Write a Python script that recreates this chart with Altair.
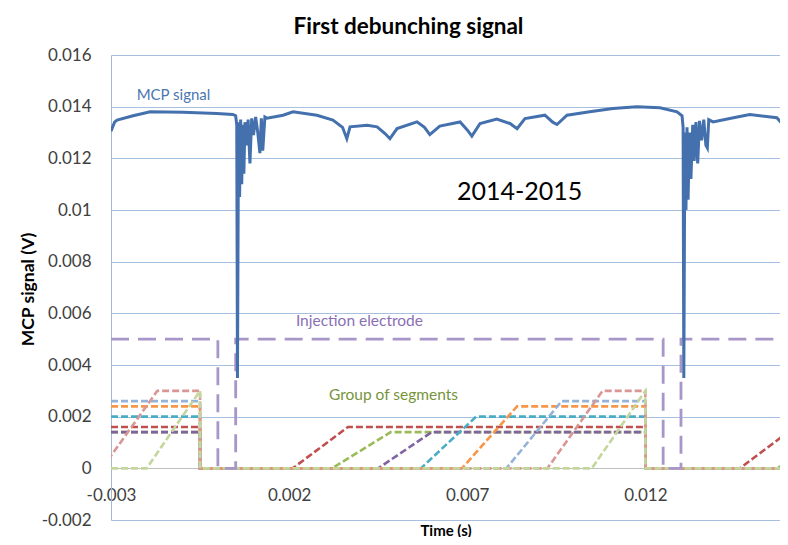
import altair as alt
import pandas as pd

# ---------------- data ----------------
# MCP signal trace: time (s) and signal (V)
mcp_t = [-0.00300, -0.00290, -0.00283, -0.00238, -0.00190, -0.00098, -0.00003, 0.00042,
         0.00050, 0.00053, 0.00055, 0.00058, 0.00061, 0.00064, 0.00067, 0.00070, 0.00073,
         0.00076, 0.00080, 0.00085, 0.00090, 0.00095, 0.00100, 0.00106, 0.00112, 0.00118,
         0.00122, 0.00126, 0.00132, 0.00138, 0.00183, 0.00211, 0.00278, 0.00323, 0.00350,
         0.00362, 0.00371, 0.00419, 0.00447, 0.00470, 0.00483, 0.00503, 0.00559, 0.00580,
         0.00595, 0.00623, 0.00680, 0.00700, 0.00713, 0.00736, 0.00783, 0.00820, 0.00840,
         0.00862, 0.00918, 0.00940, 0.00952, 0.00980, 0.01044, 0.01109, 0.01176, 0.01241,
         0.01289, 0.01303, 0.01306, 0.01308, 0.01311, 0.01314, 0.01317, 0.01320, 0.01324,
         0.01328, 0.01333, 0.01337, 0.01342, 0.01347, 0.01352, 0.01358, 0.01364, 0.01370,
         0.01374, 0.01378, 0.01390, 0.01437, 0.01493, 0.01569, 0.01597]
mcp_v = [0.01305, 0.01340, 0.01348, 0.01365, 0.01380, 0.01378, 0.01374, 0.01370,
         0.01365, 0.01330, 0.00350, 0.01340, 0.01050, 0.01350, 0.01100, 0.01330, 0.01140,
         0.01340, 0.01250, 0.01350, 0.01180, 0.01355, 0.01290, 0.01360, 0.01300, 0.01220,
         0.01355, 0.01230, 0.01360, 0.01355, 0.01367, 0.01380, 0.01367, 0.01348, 0.01320,
         0.01276, 0.01322, 0.01328, 0.01322, 0.01295, 0.01276, 0.01315, 0.01341, 0.01320,
         0.01292, 0.01325, 0.01341, 0.01310, 0.01286, 0.01335, 0.01352, 0.01335, 0.01315,
         0.01354, 0.01367, 0.01340, 0.01331, 0.01367, 0.01380, 0.01393, 0.01400, 0.01396,
         0.01380, 0.01365, 0.01320, 0.00350, 0.01300, 0.01000, 0.01320, 0.01040, 0.01300,
         0.01120, 0.01330, 0.01190, 0.01340, 0.01180, 0.01345, 0.01270, 0.01350, 0.01250,
         0.01240, 0.01350, 0.01341, 0.01354, 0.01370, 0.01357, 0.01315]

# Injection electrode (V)
inj_t = [-0.0030, 0.0000, 0.0000, 0.0005, 0.0005, 0.0125, 0.0125, 0.0130, 0.0130, 0.0160]
inj_v = [0.005, 0.005, 0.0, 0.0, 0.005, 0.005, 0.0, 0.0, 0.005, 0.005]

# Group of segments: breakpoints of each segment voltage
red_t = [-0.0030, -0.0005, -0.0005, 0.0021, 0.00365, 0.0120, 0.0120, 0.01465, 0.0162]
red_v = [0.0016, 0.0016, 0.0, 0.0, 0.0016, 0.0016, 0.0, 0.0, 0.0016]
green_t = [-0.0030, -0.0005, -0.0005, 0.0032, 0.00485, 0.0120, 0.0120, 0.0157, 0.0173]
green_v = [0.0014, 0.0014, 0.0, 0.0, 0.0014, 0.0014, 0.0, 0.0, 0.0014]
purple_t = [-0.0030, -0.0005, -0.0005, 0.0045, 0.0060, 0.0120, 0.0120, 0.0160]
purple_v = [0.0014, 0.0014, 0.0, 0.0, 0.0014, 0.0014, 0.0, 0.0]
cyan_t = [-0.0030, -0.0005, -0.0005, 0.0057, 0.00725, 0.0120, 0.0120, 0.0160]
cyan_v = [0.0020, 0.0020, 0.0, 0.0, 0.0020, 0.0020, 0.0, 0.0]
orange_t = [-0.0030, -0.0005, -0.0005, 0.00685, 0.0084, 0.0120, 0.0120, 0.0160]
orange_v = [0.0024, 0.0024, 0.0, 0.0, 0.0024, 0.0024, 0.0, 0.0]
lblue_t = [-0.0030, -0.0005, -0.0005, 0.0081, 0.00965, 0.0120, 0.0120, 0.0160]
lblue_v = [0.0026, 0.0026, 0.0, 0.0, 0.0026, 0.0026, 0.0, 0.0]
pink_t = [-0.00325, -0.0017, -0.0005, -0.0005, 0.00925, 0.0108, 0.0120, 0.0120, 0.0160]
pink_v = [0.0, 0.0030, 0.0030, 0.0, 0.0, 0.0030, 0.0030, 0.0, 0.0]
lgreen_t = [-0.0030, -0.0020, -0.0005, -0.0005, 0.0105, 0.0120, 0.0120, 0.0160]
lgreen_v = [0.0, 0.0, 0.0030, 0.0, 0.0, 0.0030, 0.0, 0.0]

segments = [
    (red_t, red_v, "#c0504d"),
    (green_t, green_v, "#9bbb59"),
    (purple_t, purple_v, "#8064a2"),
    (cyan_t, cyan_v, "#4bacc6"),
    (orange_t, orange_v, "#f79646"),
    (lblue_t, lblue_v, "#95b3d7"),
    (pink_t, pink_v, "#d99694"),
    (lgreen_t, lgreen_v, "#c3d69b"),
]

y_ticks = [-0.002, 0.0, 0.002, 0.004, 0.006, 0.008, 0.010, 0.012, 0.014, 0.016]
x_ticks = [-0.003, 0.002, 0.007, 0.012]

# annotations: text, time (s), value (V), colour, font size
ann_text = ["MCP signal", "2014-2015", "Injection electrode", "Group of segments"]
ann_t = [-0.00228, 0.00671, 0.00219, 0.00312]
ann_v = [0.01444, 0.01069, 0.00569, 0.00283]
ann_color = ["#4a76b0", "#000000", "#8a6fb5", "#77933c"]
ann_size = [15, 25, 15.5, 15.5]

# ---------------- chart ----------------
FONT = "Lato"
label_expr = ("datum.value == 0 ? '0' : (datum.value < 0 ? '-' + format(-datum.value, '.3~f')"
              " : format(datum.value, '.3~f'))")

x_enc = alt.X(
    "t:Q",
    scale=alt.Scale(domain=[-0.003, 0.01578], nice=False, zero=False),
    axis=alt.Axis(
        title="Time (s)", values=x_ticks, labelExpr=label_expr, grid=False,
        ticks=False, offset=-52, labelPadding=19, labelFlush=False,
        labelFont=FONT, labelFontSize=17, labelColor="#404040",
        domainColor="#bfbfbf", domainWidth=1,
        titleFont=FONT, titleFontSize=15, titleFontWeight="bold", titleColor="#000000",
        titleY=62, titleBaseline="middle",
    ),
)
y_enc = alt.Y(
    "v:Q",
    scale=alt.Scale(domain=[-0.002, 0.016], nice=False, zero=False),
    axis=alt.Axis(
        title="MCP signal (V)", values=y_ticks, labelExpr=label_expr,
        grid=True, gridColor="#a7c0e0", gridWidth=1, ticks=False, labelPadding=20,
        labelFont=FONT, labelFontSize=17, labelColor="#404040",
        domainColor="#a3b8d6", domainWidth=1,
        titleFont=FONT, titleFontSize=17.5, titleFontWeight="bold", titleColor="#000000",
        titleX=-83, titleY=234, titleBaseline="middle",
    ),
)

layers = []
for ts, vs, col in segments:
    df = pd.DataFrame({"t": ts, "v": vs, "i": list(range(len(ts)))})
    layers.append(
        alt.Chart(df).mark_line(color=col, strokeWidth=2.6, strokeDash=[7, 3], clip=True)
        .encode(x=x_enc, y=y_enc, order="i:Q")
    )

inj_df = pd.DataFrame({"t": inj_t, "v": inj_v, "i": list(range(len(inj_t)))})
layers.append(
    alt.Chart(inj_df).mark_line(color="#a996c8", strokeWidth=2.8, strokeDash=[18, 9], clip=True)
    .encode(x=x_enc, y=y_enc, order="i:Q")
)

mcp_df = pd.DataFrame({"t": mcp_t, "v": mcp_v, "i": list(range(len(mcp_t)))})
layers.append(
    alt.Chart(mcp_df).mark_line(color="#4471ad", strokeWidth=3, clip=True)
    .encode(x=x_enc, y=y_enc, order="i:Q")
)

for txt, tt, vv, col, fs in zip(ann_text, ann_t, ann_v, ann_color, ann_size):
    df = pd.DataFrame({"t": [tt], "v": [vv], "label": [txt]})
    layers.append(
        alt.Chart(df).mark_text(align="left", baseline="middle", font=FONT,
                                fontSize=fs, color=col)
        .encode(x=x_enc, y=y_enc, text="label:N")
    )

chart = alt.layer(*layers).properties(
    width=669,
    height=465,
    autosize=alt.AutoSizeParams(type="none"),
    padding={"left": 103, "top": 47, "right": 0, "bottom": 17},
    title=alt.TitleParams(
        "First debunching signal", font=FONT, fontSize=22.5, fontWeight="bold",
        color="#000000", anchor="middle", dx=-37, offset=8,
    ),
    background="#ffffff",
).configure_view(stroke=None)

chart.save("out.html", embed_options={"renderer": "svg", "actions": False})
